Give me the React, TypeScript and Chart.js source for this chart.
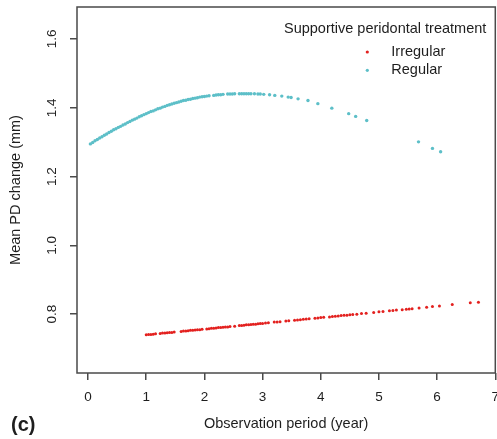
import React, { useEffect, useRef } from "react";
import { Chart, registerables } from "chart.js";

Chart.register(...registerables);

const FONT = "'Liberation Sans', Arial, Helvetica, sans-serif";
const TEXT = "#1e1e1e";
const BOX = "#4a4a4a";
const RED = "#E3211F";
const TEAL = "#5DBFC8";

const xTicks = [0, 1, 2, 3, 4, 5, 6, 7];
const yTicks = [0.8, 1.0, 1.2, 1.4, 1.6];
const xTitle = "Observation period (year)";
const yTitle = "Mean PD change (mm)";
const legendTitle = "Supportive peridontal treatment";
const seriesNames = ["Irregular", "Regular"];
const panelLabel = "(c)";

const irregularX = [1.00,1.04,1.08,1.12,1.16,1.24,1.28,1.32,1.36,1.40,1.44,1.48,1.60,1.64,1.68,1.72,1.76,1.80,1.84,1.88,1.92,1.96,2.04,2.08,2.12,2.16,2.20,2.24,2.28,2.32,2.36,2.40,2.44,2.52,2.60,2.64,2.68,2.72,2.76,2.80,2.84,2.88,2.92,2.96,3.00,3.05,3.10,3.20,3.25,3.30,3.40,3.45,3.55,3.60,3.65,3.70,3.75,3.80,3.90,3.95,4.00,4.05,4.15,4.20,4.25,4.30,4.35,4.40,4.45,4.50,4.55,4.62,4.70,4.78,4.91,5.00,5.07,5.18,5.24,5.30,5.40,5.47,5.52,5.57,5.69,5.82,5.92,6.04,6.26,6.57,6.71];
const irregularY = [0.740,0.741,0.741,0.742,0.743,0.744,0.745,0.745,0.746,0.747,0.747,0.748,0.750,0.751,0.751,0.752,0.753,0.753,0.754,0.755,0.755,0.756,0.757,0.758,0.759,0.759,0.760,0.761,0.761,0.762,0.763,0.763,0.764,0.765,0.767,0.767,0.768,0.769,0.769,0.770,0.771,0.771,0.772,0.773,0.773,0.774,0.775,0.777,0.777,0.778,0.780,0.781,0.782,0.783,0.784,0.785,0.786,0.787,0.788,0.789,0.790,0.791,0.792,0.793,0.794,0.795,0.796,0.797,0.797,0.798,0.799,0.800,0.802,0.803,0.805,0.807,0.808,0.810,0.811,0.812,0.813,0.814,0.815,0.816,0.818,0.820,0.822,0.824,0.828,0.833,0.835];

const regularX = [0.04,0.08,0.12,0.16,0.20,0.24,0.28,0.32,0.36,0.40,0.44,0.48,0.52,0.56,0.60,0.64,0.68,0.72,0.76,0.80,0.84,0.88,0.92,0.96,1.00,1.04,1.08,1.12,1.16,1.20,1.24,1.28,1.32,1.36,1.40,1.44,1.48,1.52,1.56,1.60,1.64,1.68,1.72,1.76,1.80,1.84,1.88,1.92,1.96,2.00,2.04,2.08,2.16,2.20,2.24,2.28,2.32,2.40,2.44,2.48,2.52,2.60,2.64,2.68,2.72,2.76,2.80,2.86,2.92,2.96,3.02,3.12,3.21,3.33,3.44,3.49,3.61,3.78,3.95,4.19,4.48,4.60,4.79,5.68,5.92,6.06];
const regularY = [1.295,1.299,1.304,1.308,1.312,1.316,1.320,1.324,1.328,1.332,1.336,1.339,1.343,1.346,1.350,1.353,1.357,1.360,1.364,1.367,1.370,1.374,1.377,1.380,1.383,1.386,1.389,1.391,1.394,1.397,1.399,1.402,1.404,1.407,1.409,1.411,1.413,1.415,1.417,1.419,1.421,1.422,1.424,1.425,1.427,1.428,1.429,1.431,1.432,1.433,1.434,1.435,1.436,1.437,1.438,1.438,1.439,1.440,1.440,1.440,1.441,1.441,1.441,1.441,1.441,1.441,1.441,1.441,1.440,1.440,1.439,1.438,1.436,1.434,1.431,1.430,1.426,1.421,1.412,1.399,1.383,1.375,1.363,1.301,1.282,1.272];

const X_MIN = -0.19;
const X_MAX = 7.0;
const Y_MIN = 0.629;
const Y_MAX = 1.693;

const rStyle = {
  id: "rStyle",
  afterDraw(chart: any) {
    const { ctx, chartArea, scales } = chart;
    const { left, right, top, bottom } = chartArea;
    const y = scales.y;
    ctx.save();
    ctx.strokeStyle = BOX;
    ctx.lineWidth = 1.5;
    ctx.strokeRect(left, top, right - left, bottom - top);

    ctx.fillStyle = TEXT;
    ctx.textAlign = "center";
    ctx.textBaseline = "middle";
    ctx.font = `13.5px ${FONT}`;
    yTicks.forEach((v) => {
      const py = y.getPixelForValue(v);
      ctx.save();
      ctx.translate(left - 25, py);
      ctx.rotate(-Math.PI / 2);
      ctx.fillText(v.toFixed(1), 0, 0);
      ctx.restore();
    });

    ctx.font = `14.5px ${FONT}`;
    ctx.save();
    ctx.translate(16, (top + bottom) / 2);
    ctx.rotate(-Math.PI / 2);
    ctx.fillText(yTitle, 0, 0);
    ctx.restore();

    ctx.fillText(xTitle, (left + right) / 2, 424);

    ctx.font = `bold 20px ${FONT}`;
    ctx.textAlign = "left";
    ctx.fillText(panelLabel, 11, 425);

    // legend
    ctx.font = `14.5px ${FONT}`;
    ctx.textAlign = "right";
    ctx.fillText(legendTitle, right - 9, 29);
    ctx.textAlign = "left";
    chart.data.datasets.forEach((ds: any, i: number) => {
      const ly = 52 + i * 18.3;
      ctx.beginPath();
      ctx.arc(right - 128, ly, 1.6, 0, Math.PI * 2);
      ctx.fillStyle = ds.backgroundColor;
      ctx.fill();
      ctx.fillStyle = TEXT;
      ctx.fillText(ds.label, right - 104, ly);
    });
    ctx.restore();
  },
};

export default function App() {
  const ref = useRef<HTMLCanvasElement | null>(null);
  useEffect(() => {
    if (!ref.current) return;
    const gridOpts = {
      drawOnChartArea: false,
      drawTicks: true,
      tickLength: 7,
      color: BOX,
      lineWidth: 1.5,
    };
    const chart = new Chart(ref.current, {
      type: "scatter",
      data: {
        datasets: [
          {
            label: seriesNames[0],
            data: irregularX.map((x, i) => ({ x, y: irregularY[i] })),
            backgroundColor: RED,
            pointRadius: 1.5,
            pointBorderWidth: 0,
            pointHoverRadius: 1.5,
          },
          {
            label: seriesNames[1],
            data: regularX.map((x, i) => ({ x, y: regularY[i] })),
            backgroundColor: TEAL,
            pointRadius: 1.7,
            pointBorderWidth: 0,
            pointHoverRadius: 1.7,
          },
        ],
      },
      options: {
        responsive: false,
        devicePixelRatio: 1,
        animation: false,
        events: [],
        layout: { padding: { left: 0, top: 7, right: 1, bottom: 0 } },
        plugins: { legend: { display: false }, tooltip: { enabled: false } },
        scales: {
          x: {
            type: "linear",
            min: X_MIN,
            max: X_MAX,
            afterBuildTicks: (s: any) => {
              s.ticks = xTicks.map((v) => ({ value: v }));
            },
            afterFit: (s: any) => {
              s.height = 66;
              s.paddingLeft = 0;
              s.paddingRight = 0;
            },
            ticks: {
              autoSkip: false,
              maxRotation: 0,
              minRotation: 0,
              padding: 9,
              color: TEXT,
              font: { family: FONT, size: 13.5 },
              callback: (v: any) => String(v),
            },
            grid: gridOpts,
            border: { display: false },
          },
          y: {
            type: "linear",
            min: Y_MIN,
            max: Y_MAX,
            afterBuildTicks: (s: any) => {
              s.ticks = yTicks.map((v) => ({ value: v }));
            },
            afterFit: (s: any) => {
              s.width = 77;
              s.paddingTop = 0;
              s.paddingBottom = 0;
            },
            ticks: { display: false },
            grid: gridOpts,
            border: { display: false },
          },
        },
      },
      plugins: [rStyle],
    });
    return () => chart.destroy();
  }, []);
  return (
    <div style={{ position: "fixed", left: 0, top: 0, width: 497, height: 439, background: "#fff" }}>
      <canvas ref={ref} width={497} height={439} style={{ display: "block" }} />
    </div>
  );
}
